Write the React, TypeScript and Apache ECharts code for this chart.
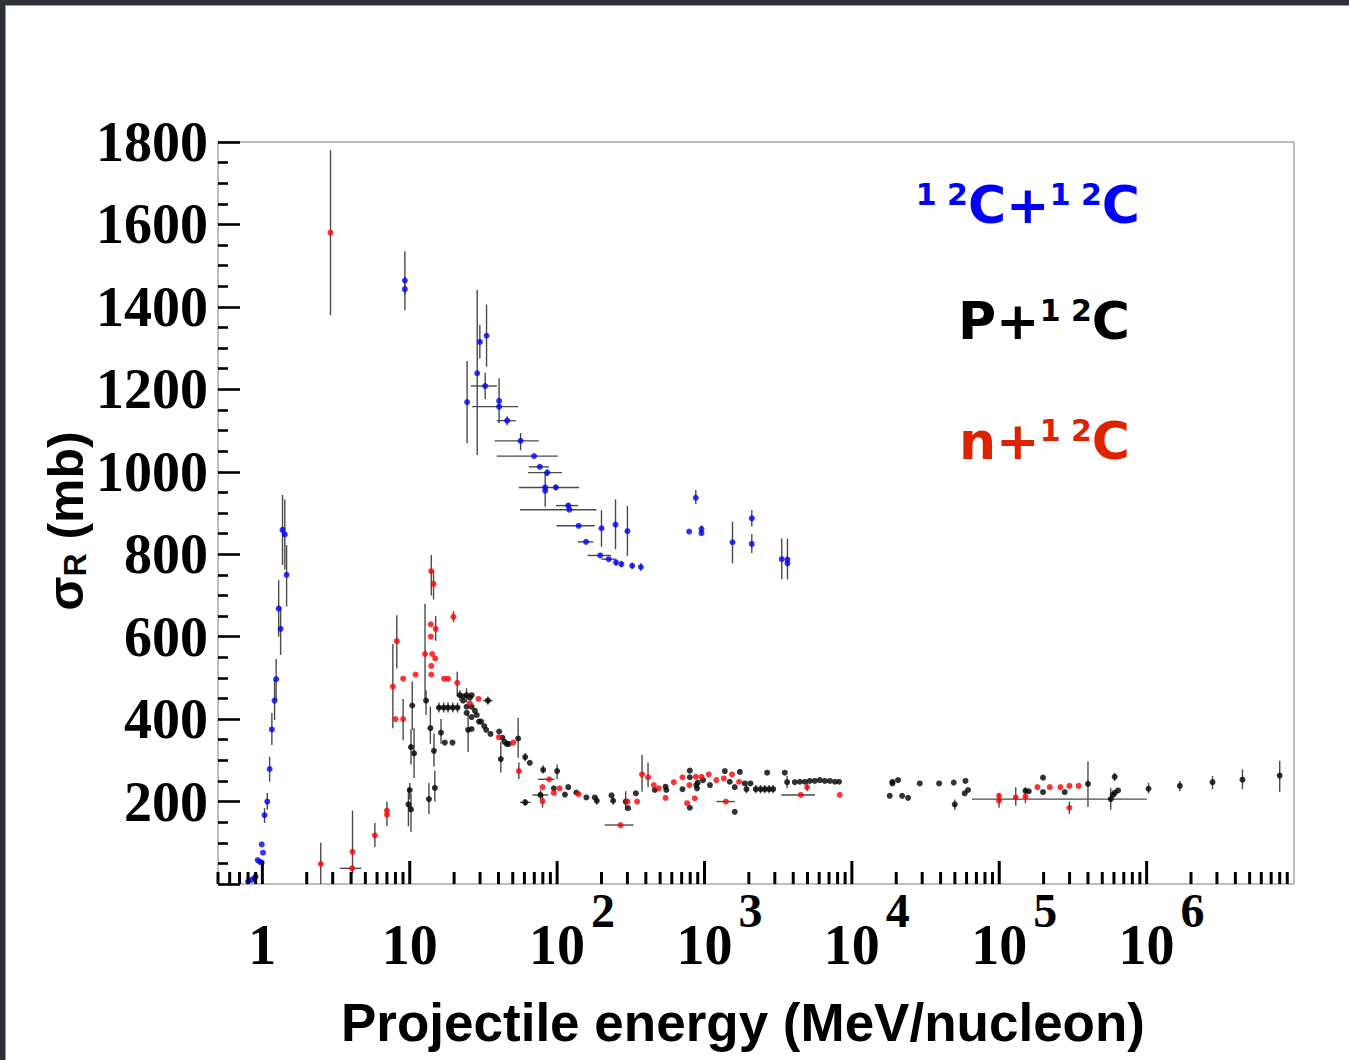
import React, { useEffect, useRef } from "react";
import * as echarts from "echarts";

// Each point: [energy (MeV/nucleon), sigma_R (mb), sigmaLow, sigmaHigh, energyLow, energyHigh]
type Pt = (number | null)[];

const blueC12C12: Pt[] = [
  [0.8, 6], [0.845, 10], [0.88, 14], [0.9, 18], [0.93, 58], [0.96, 54], [0.99, 52], [0.99, 96], [1.01, 76],
  [1.035, 167, 148, 184], [1.08, 200, 180, 221], [1.12, 279, 248, 309], [1.16, 375, 337, 415],
  [1.21, 445, 398, 495], [1.24, 497, 446, 546], [1.29, 668, 600, 737], [1.33, 619, 556, 673],
  [1.37, 859, 774, 944], [1.42, 848, 763, 933], [1.46, 750, 673, 822],
  [9.27, 1464, 1430, 1535], [9.27, 1443, 1392, 1475],
  [24.5, 1169, 1069, 1269], [28.7, 1239, 1041, 1441], [29.9, 1315, 1275, 1356], [33.2, 1330, 1255, 1406],
  [32.5, 1208, 1176, 1240, 26, 39], [40.4, 1172, 1118, 1227], [40.4, 1158, null, null, 26.5, 54.5],
  [45.8, 1124, 1113, 1135, 39, 52.4], [56.5, 1075, 1052, 1094, 37.7, 75], [69.8, 1038, null, null, 38.9, 101],
  [76.3, 1012, null, null, 64.4, 88], [85.6, 998, 990, 1006, 63.5, 108], [83, 962, 915, 997, 55, 141],
  [83, 954], [98, 962, 955, 970], [119, 918, 912, 925, 98, 139], [121, 908, null, null, 56, 185],
  [140, 869, null, null, 99, 180], [157, 830, null, null, 138, 176], [200, 863, 818, 907],
  [249, 872, 812, 933], [300, 856, 796, 917], [196, 797, null, null, 161, 232], [224, 788, null, null, 200, 250],
  [251, 780, 772, 788], [273, 776, 768, 784], [323, 772, 764, 780], [370, 769, 760, 778],
  [787, 855], [873, 937, 922, 956], [954, 861, 850, 870], [954, 851], [1549, 829, 778, 879],
  [2094, 887, 867, 907], [2094, 825, 803, 849], [3344, 788, 739, 838], [3656, 787, 739, 838], [3656, 778],
];

const blackPC12: Pt[] = [
  [10.4, 433, 373, 491], [12.9, 445, 410, 470], [10.2, 332, 290, 375], [10.7, 317, 257, 378],
  [10.0, 228, 205, 245], [9.8, 193, 140, 233], [10.2, 181, 126, 220], [13.8, 378, 340, 430],
  [14.6, 323, 285, 365], [13.5, 206, 170, 245], [14.8, 233, 200, 275], [16.3, 367, 340, 400],
  [17.3, 343], [19.5, 343],
  [15.8, 428, 416, 440, 15.1, 16.4], [17.0, 428, 416, 440, 16.4, 17.6], [18.2, 428, 416, 440, 17.6, 18.9],
  [19.6, 428, 416, 440, 18.9, 20.3], [21.1, 428, 416, 440, 20.3, 21.9],
  [21.9, 458, 445, 470], [23, 455], [24.3, 458, 440, 475], [26.3, 458], [25.6, 452], [23, 445],
  [24.3, 430], [26.3, 430], [27.7, 420], [24.3, 415], [26.3, 405], [28.5, 410], [29.5, 394],
  [30.5, 394], [32, 383], [33, 374], [35.3, 364], [24.9, 374, 320, 420], [26.3, 376],
  [33.9, 445, 435, 455, 31.5, 36.5], [40.4, 370], [41.5, 303, 270, 345], [42.5, 355], [44, 345],
  [45.5, 340], [47, 340], [54.4, 353, 306, 403], [60.7, 308, 298, 318], [65.3, 294], [80.4, 277, 268, 288],
  [60.7, 198, 190, 206, 56, 66], [77.1, 216, 205, 228, 68, 87],
  [100, 274, 255, 290], [95, 232], [113, 217], [119, 235], [135, 222], [158, 210], [180, 210],
  [186, 202, 192, 212], [234, 215], [240, 202, 192, 212], [292, 200, 180, 225], [303, 184], [342, 220],
  [460, 228], [544, 236], [551, 228], [709, 230], [795, 275], [795, 259], [795, 185], [880, 240],
  [900, 246], [890, 232], [978, 252], [1089, 240], [1374, 274], [1485, 248], [1604, 235], [1604, 175],
  [1737, 272], [1876, 244], [2050, 244], [1927, 230, 220, 240], [2228, 230, 220, 240], [2399, 230, 220, 240],
  [2566, 230, 220, 240], [2744, 230, 220, 240], [2923, 230, 220, 240], [2660, 270], [3508, 270],
  [3636, 247, 232, 262], [4100, 247], [4436, 248], [4797, 248], [5187, 250], [5609, 250], [6065, 252],
  [6558, 250], [7091, 250], [7668, 248], [8185, 248],
  [18080, 214], [18850, 244], [18850, 248], [20580, 252], [21930, 214], [24060, 209], [28890, 244],
  [39080, 244], [49120, 246], [49900, 193, 180, 205], [59000, 250], [58300, 220], [61400, 228],
  [150600, 226], [158700, 225], [198200, 258], [198200, 223], [278200, 223], [400000, 243, 187, 297],
  [571000, 206, 180, 232, 65300, 1000000], [592000, 216], [607000, 221], [607000, 260, 250, 270],
  [640000, 227], [1030000, 231, 220, 245], [1680000, 238, 225, 250], [2800000, 247, 230, 262],
  [4470000, 253, 230, 278], [8000000, 263, 224, 299],
];

const redNC12: Pt[] = [
  [2.49, 48.5, 0, 100], [2.9, 1580, 1380, 1780], [4.09, 78, 26, 178], [4.06, 38, null, null, 3.35, 4.7],
  [5.8, 118, 90, 148], [7.0, 178, 140, 200], [7.0, 168], [7.68, 479, 378, 582], [8.17, 589, 523, 652],
  [8.01, 400], [9.02, 400, 349, 449], [9.02, 498], [10.95, 508], [12.7, 558, 450, 680],
  [14.0, 759, 700, 798], [14.5, 728, 690, 760], [13.9, 630], [13.9, 600], [15.0, 619, 590, 650],
  [14.2, 558], [14.9, 547], [14.0, 529], [14.0, 508], [17.1, 498], [18.2, 498], [19.8, 648, 635, 662],
  [21.0, 488, 455, 515], [25.6, 438], [29.3, 449], [40.2, 356], [50.4, 343], [55, 274, 255, 295],
  [79.6, 235], [79.6, 201, 185, 215], [88.3, 254, null, null, 74, 96], [95, 221], [104, 232], [140, 218],
  [269, 143, null, null, 210, 330], [300, 200], [349, 200], [377, 266, 224, 313], [414, 259, 235, 295],
  [453, 240], [490, 232], [544, 209], [619, 247], [709, 259], [762, 196], [790, 240], [873, 260],
  [954, 260], [859, 208], [1069, 266], [1205, 252], [1352, 256], [1538, 266], [1717, 248],
  [1396, 200, null, null, 1205, 1604], [4500, 216, null, null, 3323, 5622], [4966, 235, 225, 245], [8276, 216],
  [99700, 214], [99700, 202, 185, 220], [129400, 210, 190, 235], [150600, 212, 196, 235], [181500, 235],
  [220300, 235], [260300, 235], [299300, 238], [346000, 238], [299300, 185, 170, 200],
];

const xDecades = [1, 10, 100, 1000, 10000, 100000, 1000000];
const xMinorMultipliers = [2, 3, 4, 5, 6, 7, 8, 9];
const xLowMinorTicks = [0.5, 0.6, 0.7, 0.8, 0.9];
const xLabelBase = ["1", "10", "10", "10", "10", "10", "10"];
const xLabelExp = ["", "", "2", "3", "4", "5", "6"];

const serif = "Liberation Serif";
const sans = "Liberation Sans";

function norm(d: Pt): (number | null)[] {
  return [d[0], d[1], d[2] ?? null, d[3] ?? null, d[4] ?? null, d[5] ?? null];
}

const ok = (v: any) => v !== null && v !== undefined && !isNaN(v);

export default function App() {
  const ref = useRef<HTMLDivElement>(null);

  useEffect(() => {
    if (!ref.current) return;
    const chart = echarts.init(ref.current, null, { renderer: "svg" });

    const tickData: number[][] = [];
    xLowMinorTicks.forEach((v) => tickData.push([v, 0, 0]));
    xDecades.forEach((d) => {
      tickData.push([d, 0, 1]);
      xMinorMultipliers.forEach((m) => tickData.push([d * m, 0, 0]));
    });

    const errData = [...blueC12C12, ...blackPC12, ...redNC12]
      .filter((d) => d.length > 2)
      .map(norm);

    const option: any = {
      animation: false,
      backgroundColor: "transparent",
      grid: {
        left: 218,
        right: 55,
        top: 142,
        bottom: 176,
        show: true,
        borderColor: "#7f7f7f",
        borderWidth: 1,
        backgroundColor: "transparent",
      },
      xAxis: {
        type: "log",
        logBase: 10,
        min: 0.5,
        max: 1e7,
        axisLine: { show: false },
        axisTick: { show: false },
        axisLabel: { show: false },
        splitLine: { show: false },
      },
      yAxis: {
        type: "value",
        min: 0,
        max: 1800,
        interval: 200,
        axisLine: { show: false },
        splitLine: { show: false },
        axisTick: { show: true, inside: true, length: 22, lineStyle: { color: "#000", width: 2.6 } },
        minorTick: { show: true, splitNumber: 4, length: 10, lineStyle: { color: "#000", width: 2.6 } },
        axisLabel: {
          margin: 10,
          fontFamily: serif,
          fontWeight: "bold",
          fontSize: 56,
          color: "#000",
          formatter: (v: number) => (v === 0 ? "" : String(v)),
        },
      },
      series: [
        {
          type: "custom",
          name: "errors",
          coordinateSystem: "cartesian2d",
          dimensions: ["e", "s", "slo", "shi", "elo", "ehi"],
          encode: { x: 0, y: 1 },
          data: errData,
          clip: true,
          silent: true,
          z: 2,
          renderItem: (params: any, api: any) => {
            const x = api.value(0);
            const y = api.value(1);
            const slo = api.value(2);
            const shi = api.value(3);
            const elo = api.value(4);
            const ehi = api.value(5);
            const children: any[] = [];
            const st = { stroke: "#4a4a4a", lineWidth: 1.4 };
            if (ok(slo) && ok(shi)) {
              const a = api.coord([x, slo]);
              const b = api.coord([x, shi]);
              children.push({ type: "line", shape: { x1: a[0], y1: a[1], x2: b[0], y2: b[1] }, style: st });
            }
            if (ok(elo) && ok(ehi)) {
              const a = api.coord([elo, y]);
              const b = api.coord([ehi, y]);
              children.push({ type: "line", shape: { x1: a[0], y1: a[1], x2: b[0], y2: b[1] }, style: st });
            }
            return { type: "group", children };
          },
        },
        {
          type: "scatter",
          name: "p+12C",
          data: blackPC12.map((d) => [d[0], d[1]]),
          symbolSize: 6,
          itemStyle: { color: "#000000" },
          z: 3,
        },
        {
          type: "scatter",
          name: "n+12C",
          data: redNC12.map((d) => [d[0], d[1]]),
          symbolSize: 6,
          itemStyle: { color: "#ff0000" },
          z: 4,
        },
        {
          type: "scatter",
          name: "12C+12C",
          data: blueC12C12.map((d) => [d[0], d[1]]),
          symbolSize: 6,
          itemStyle: { color: "#0000ff" },
          z: 5,
        },
        {
          type: "custom",
          name: "xticks",
          coordinateSystem: "cartesian2d",
          encode: { x: 0, y: 1 },
          data: tickData,
          clip: false,
          silent: true,
          z: 6,
          renderItem: (params: any, api: any) => {
            const p = api.coord([api.value(0), 0]);
            const len = api.value(2) ? 23 : 12;
            return {
              type: "line",
              shape: { x1: p[0], y1: p[1], x2: p[0], y2: p[1] - len },
              style: { stroke: "#000", lineWidth: 3 },
            };
          },
        },
        {
          type: "custom",
          name: "xlabels",
          coordinateSystem: "cartesian2d",
          encode: { x: 0, y: 1 },
          data: xDecades.map((d) => [d, 0]),
          clip: false,
          silent: true,
          z: 6,
          renderItem: (params: any, api: any) => {
            const i = params.dataIndex;
            const p = api.coord([api.value(0), 0]);
            const children: any[] = [
              {
                type: "text",
                x: p[0],
                y: p[1] + 61,
                style: {
                  text: xLabelBase[i],
                  fontFamily: serif,
                  fontWeight: "bold",
                  fontSize: 56,
                  fill: "#000",
                  textAlign: "center",
                  textVerticalAlign: "middle",
                },
              },
            ];
            if (xLabelExp[i]) {
              children.push({
                type: "text",
                x: p[0] + 34,
                y: p[1] + 26,
                style: {
                  text: xLabelExp[i],
                  fontFamily: serif,
                  fontWeight: "bold",
                  fontSize: 48,
                  fill: "#000",
                  textAlign: "left",
                  textVerticalAlign: "middle",
                },
              });
            }
            return { type: "group", children };
          },
        },
      ],
      graphic: [
        {
          type: "text",
          x: 743,
          y: 1022,
          style: {
            text: "Projectile energy (MeV/nucleon)",
            fontFamily: sans,
            fontWeight: "bold",
            fontSize: 53,
            fill: "#000",
            textAlign: "center",
            textVerticalAlign: "middle",
          },
        },
        {
          type: "text",
          x: 66,
          y: 521,
          rotation: Math.PI / 2,
          style: {
            text: "{a|σ}{b|R}{a| (mb)}",
            textAlign: "center",
            textVerticalAlign: "middle",
            fill: "#000",
            rich: {
              a: { fontFamily: sans, fontWeight: "bold", fontSize: 50, fill: "#000" },
              b: { fontFamily: sans, fontWeight: "bold", fontSize: 32, fill: "#000", verticalAlign: "bottom" },
            },
          },
        },
        {
          type: "text",
          x: 1140,
          y: 205,
          style: {
            text: "{s|1 2}{b|C+}{s|1 2}{b|C}",
            textAlign: "right",
            textVerticalAlign: "middle",
            fill: "#0000ff",
            rich: {
              s: { fontFamily: "DejaVu Sans", fontWeight: "bold", fontSize: 30, fill: "#0000ff", verticalAlign: "top" },
              b: { fontFamily: "DejaVu Sans", fontWeight: "bold", fontSize: 52, fill: "#0000ff" },
            },
          },
        },
        {
          type: "text",
          x: 1130,
          y: 321,
          style: {
            text: "{b|P+}{s|1 2}{b|C}",
            textAlign: "right",
            textVerticalAlign: "middle",
            fill: "#000",
            rich: {
              s: { fontFamily: "DejaVu Sans", fontWeight: "bold", fontSize: 30, fill: "#000", verticalAlign: "top" },
              b: { fontFamily: "DejaVu Sans", fontWeight: "bold", fontSize: 52, fill: "#000" },
            },
          },
        },
        {
          type: "text",
          x: 1130,
          y: 441,
          style: {
            text: "{b|n+}{s|1 2}{b|C}",
            textAlign: "right",
            textVerticalAlign: "middle",
            fill: "#dd2200",
            rich: {
              s: { fontFamily: "DejaVu Sans", fontWeight: "bold", fontSize: 30, fill: "#dd2200", verticalAlign: "top" },
              b: { fontFamily: "DejaVu Sans", fontWeight: "bold", fontSize: 52, fill: "#dd2200" },
            },
          },
        },
      ],
    };

    chart.setOption(option);
    return () => {
      chart.dispose();
    };
  }, []);

  return (
    <div
      style={{
        position: "absolute",
        left: 0,
        top: 0,
        width: 1349,
        height: 1060,
        background: "#ffffff",
        overflow: "hidden",
      }}
    >
      <div ref={ref} style={{ position: "absolute", left: 0, top: 0, width: 1349, height: 1060 }} />
      <div style={{ position: "absolute", left: 0, top: 0, width: 1349, height: 5, background: "#2d3135" }} />
      <div style={{ position: "absolute", left: 0, top: 0, width: 5, height: 1060, background: "#2d3135" }} />
      <div style={{ position: "absolute", left: 5, top: 5, width: 1344, height: 1, background: "#9a9a9a" }} />
      <div style={{ position: "absolute", left: 5, top: 5, width: 1, height: 1055, background: "#9a9a9a" }} />
    </div>
  );
}
